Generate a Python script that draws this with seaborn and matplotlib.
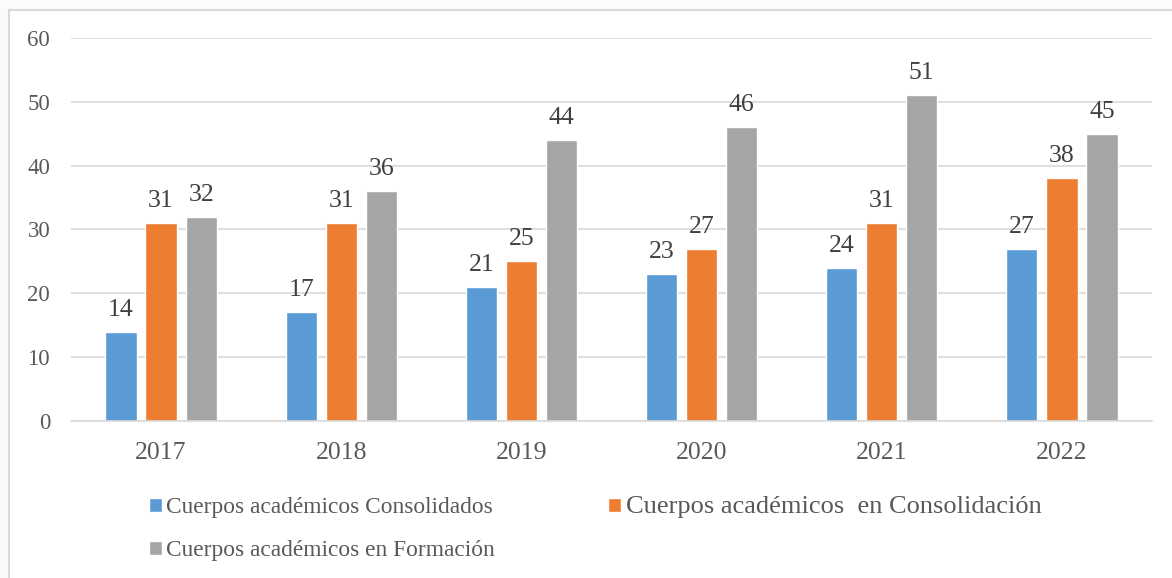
import matplotlib
matplotlib.use("Agg")
import matplotlib.pyplot as plt
import seaborn as sns
import pandas as pd
from matplotlib.patches import Rectangle

years = ["2017", "2018", "2019", "2020", "2021", "2022"]
consolidados = [14, 17, 21, 23, 24, 27]
en_consolidacion = [31, 31, 25, 27, 31, 38]
en_formacion = [32, 36, 44, 46, 51, 45]
series_names = ["Cuerpos académicos Consolidados",
                "Cuerpos académicos  en Consolidación",
                "Cuerpos académicos en Formación"]
colors = ["#5b9bd5", "#ed7d31", "#a5a5a5"]
yticks = [0, 10, 20, 30, 40, 50, 60]

rows = []
for name, vals in zip(series_names, [consolidados, en_consolidacion, en_formacion]):
    for y, v in zip(years, vals):
        rows.append({"Año": y, "Serie": name, "Valor": v})
df = pd.DataFrame(rows)

sns.set_theme(style="white")
plt.rcParams["font.family"] = ["Liberation Serif", "DejaVu Serif"]
text_color = "#595959"

fig = plt.figure(figsize=(11.72, 5.78), dpi=100, facecolor="#fcfbf9")
frame = Rectangle((9 / 1172, -0.05), 1.1, (578 - 10) / 578 + 0.05,
                  transform=fig.transFigure, facecolor="white",
                  edgecolor="#d9d9d9", linewidth=1.5, zorder=-10)
fig.add_artist(frame)
ax = fig.add_axes([71 / 1172, (578 - 421) / 578, (1152 - 71) / 1172, (421 - 38) / 578])
ax.set_zorder(5)
ax.set_facecolor("none")

sns.barplot(data=df, x="Año", y="Valor", hue="Serie", palette=colors,
            width=0.667, gap=0.22, ax=ax, saturation=1, legend=True)

for cont in ax.containers:
    ax.bar_label(cont, padding=8, fontsize=18.5, color="#404040")

ax.set_ylim(0, 60)
ax.set_yticks(yticks)
ax.set_xlim(-0.5, 5.5)
ax.yaxis.grid(True, color="#d9d9d9", linewidth=1.2)
ax.set_axisbelow(True)
for s in ["top", "right", "left"]:
    ax.spines[s].set_visible(False)
ax.spines["bottom"].set_color("#d9d9d9")
ax.spines["bottom"].set_linewidth(1.2)
ax.tick_params(axis="both", length=0, colors=text_color)
ax.tick_params(axis="y", pad=15, labelsize=16.5)
ax.tick_params(axis="x", pad=15, labelsize=18.5)
ax.set_xlabel("")
ax.set_ylabel("")

handles, labels = ax.get_legend_handles_labels()
order = [0, 2, 1]
leg = ax.legend([handles[i] for i in order], [labels[i] for i in order], ncol=2,
                loc="upper left", bbox_to_anchor=(149 / 1172, 0.142),
                bbox_transform=fig.transFigure, frameon=False, fontsize=16.8,
                labelcolor=text_color, handlelength=0.55, handleheight=0.55,
                handletextpad=0.2, columnspacing=4.85, labelspacing=0.96,
                borderaxespad=0, borderpad=0)
leg.get_texts()[2].set_fontsize(19)

fig.savefig("out.png", dpi=100, facecolor=fig.get_facecolor())
